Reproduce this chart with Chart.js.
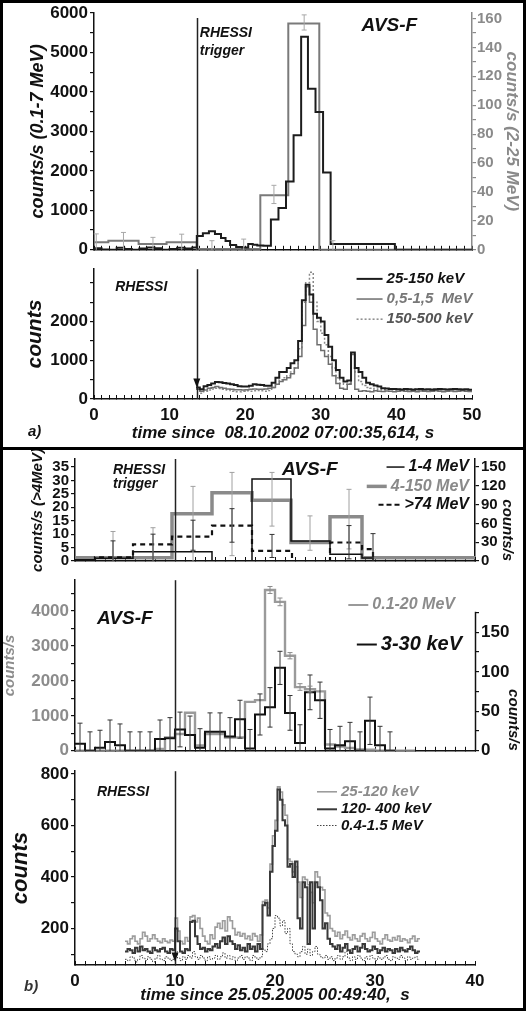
<!DOCTYPE html>
<html>
<head>
<meta charset="utf-8">
<title>AVS-F / RHESSI</title>
<script src="https://cdn.jsdelivr.net/npm/chart.js@4.4.1/dist/chart.umd.min.js"></script>
<style>
  body { margin: 0; background: #fff; }
  #page { position: relative; width: 526px; height: 1011px; overflow: hidden; background: #fff; }
  #page canvas { position: absolute; left: 0; }
  #sep { position: absolute; left: 0; top: 447px; width: 526px; height: 3px; background: #000; }
  #frame { position: absolute; left: 0; top: 0; width: 526px; height: 1011px; box-sizing: border-box; border: 3px solid #000; }
</style>
</head>
<body>
<div id="page">
  <canvas id="a1" width="526" height="262" style="top:0px"></canvas>
  <canvas id="a2" width="526" height="191" style="top:257px"></canvas>
  <canvas id="b1" width="526" height="124" style="top:448px"></canvas>
  <canvas id="b2" width="526" height="195" style="top:568px"></canvas>
  <canvas id="b3" width="526" height="249" style="top:759px"></canvas>
  <div id="sep"></div>
  <div id="frame"></div>
</div>
<script>
const FONT = '"Liberation Sans", Arial, sans-serif';
const BI = s => 'italic bold ' + s + 'px ' + FONT;

// ---------- a) 08.10.2002 ----------
const aTrigger = 13.6;

// AVS-F 0.1-7 MeV (left axis), bin edges + values
const a1BlackEdges = [0,1,2,3,4,5,6,7,8,9,10,11,12,13,13.6,14.4,15.2,16.0,16.8,17.4,18.0,18.8,19.6,20.4,21.0,21.6,22.4,
                      23.4,24.4,25.4,26.4,27.4,28.3,29.3,30.3,31.3,39.8,50];
const a1BlackVals  = [40,10,0,50,20,0,30,60,40,0,20,50,30,60,350,420,470,400,300,220,120,70,60,150,130,110,100,
                      770,1060,1730,2900,5400,4080,3490,1960,150,0];
// AVS-F 2-25 MeV (right axis)
const a1GrayEdges = [0,1.9,5.9,9.6,13.6,22.0,25.7,29.8,50];
const a1GrayVals  = [5.2,6.3,4.0,5.2,0.6,37.8,156.5,0];
const a1ErrT  = [0.3,3.9,7.8,11.6,15.6,19.8,23.8,27.8,31.6];
const a1ErrLo = [0,0,0,0,0,0,32,152,0];
const a1ErrHi = [11,12,8.6,10.8,6.3,7.4,44.6,162.5,6.3];
const a1LeftTicks   = [0,500,1000,1500,2000,2500,3000,3500,4000,4500,5000,5500,6000];
const a1LeftLabels  = ['0','','1000','','2000','','3000','','4000','','5000','','6000'];
const a1RightTicks  = [0,10,20,30,40,50,60,70,80,90,100,110,120,130,140,150,160];
const a1RightLabels = ['0','','20','','40','','60','','80','','100','','120','','140','','160'];

// RHESSI, 0.5 s bins starting at 13.5 s
const a2Start = 13.5, a2Step = 0.5;
const a2Low = [300,250,330,360,400,440,430,410,400,380,360,330,320,320,340,380,370,360,340,340,
               420,550,700,700,800,920,1000,1500,2550,2950,2700,2200,2100,2000,1650,1350,1000,750,550,450,
               480,1200,800,700,550,420,380,350,320,280,270,260,260,250,245,255,250,240,250,255,
               245,250,240,250,260,250,245,250,255,250,245,250,240];
const a2High = [250,200,230,280,300,320,300,280,260,250,240,240,230,240,250,260,250,250,260,280,
                300,380,450,500,550,650,800,1100,1900,2900,2500,1800,1400,1250,1100,900,600,400,280,250,
                380,1150,250,200,210,200,190,210,200,195,205,200,190,200,210,200,195,200,190,205,
                200,195,200,210,200,190,200,205,195,200,210,200,195];
const a2Mid = [250,150,200,230,260,280,270,250,230,200,190,190,200,210,200,210,220,210,200,220,
               300,380,500,550,600,700,800,1300,2500,3000,3270,2500,2000,1700,1400,1100,800,550,400,380,
               400,800,700,450,350,300,280,260,250,240,255,245,240,250,240,235,245,250,240,235,
               245,240,250,240,235,245,240,250,240,235,245,240,235];
const a2Ticks      = [0,500,1000,1500,2000,2500,3000];
const a2TickLabels = ['0','','1000','','2000','',''];

// ---------- b) 25.05.2005 ----------
const bTrigger = 10;

// AVS-F, >4 MeV channels (left axis) and 1-4 MeV (right axis)
const b1GrayEdges = [0,9.7,13.7,17.7,21.6,25.5,28.7,40];
const b1GrayVals  = [1.2,17.6,25.4,22.6,6.9,16.5,1.2];
const b1DashEdges = [0,2,5.8,9.7,13.7,17.7,21.7,25.5,28.7,29.8,40];
const b1DashVals  = [0.3,1.4,6.2,9.1,13.2,3.8,0,6.9,4.4,0];
const b1ThinEdges = [0,2,5.8,13.7,17.7,21.6,25.5,28.7,29.8,40];
const b1ThinVals  = [2,4.3,14.6,0,131,32,10.7,4.7,0];
const b1ErrGrayT  = [3.8,7.8,11.8,15.7,19.7,23.5,27.4];
const b1ErrGrayLo = [0,0,0,2,13,4,4.5];
const b1ErrGrayHi = [11,12.4,27.8,33,33,16.8,26.7];
const b1ErrDarkT  = [3.8,7.8,11.8,15.7,19.7,27.4,29.8];
const b1ErrDarkLo = [0,0,4,7,1.3,0.8,0];
const b1ErrDarkHi = [7.5,10,15.2,19.5,9.9,13.2,10.2];
const b1LeftTicks  = [0,5,10,15,20,25,30,35];
const b1RightTicks = [0,30,60,90,120,150];

// AVS-F 0.1-20 MeV (left) and 3-30 keV (right), 1 s bins
const b2GrayEdges = [0,1,2,3,4,5,6,7,8,9,10,11,12,13,14,15,16,17,18,19,20,21,22,23,24,25,26,27,28,29,30,31,32,33,34];
const b2GrayVals  = [0,0,0,0,0,0,0,0,50,380,480,1090,150,480,480,380,380,1400,1450,4600,4260,2720,1820,1760,1700,
                     180,120,80,40,30,0,0,0,0];
const b2GrayErrT  = [19.5,20.5,21.5,22.5,23.5];
const b2GrayErrLo = [4500,4150,2630,1730,1680];
const b2GrayErrHi = [4700,4370,2810,1920,1850];
const b2BlackEdges = [0,1,2,3,4,5,6,7,8,9,10,11,12,13,14,15,16,17,18,19,20,21,22,23,24,25,26,27,28,29,30,31,32];
const b2BlackVals  = [9,0,4,11,7,0,0,0,15,16,27,20,4,24,24,18,40,3,46,55,105,48,10,74,64,3,7,12,0,38,7,0];
const b2BlackErr   = [26,24,22,28,27,24,24,24,24,26,22,24,24,24,24,24,24,24,26,25,21,22,23,22,23,24,24,24,24,30,24,24];
const b2LeftTicks   = [0,500,1000,1500,2000,2500,3000,3500,4000,4500];
const b2LeftLabels  = ['0','','1000','','2000','','3000','','4000',''];
const b2RightTicks  = [0,25,50,75,100,125,150,175];
const b2RightLabels = ['0','','50','','100','','150',''];

// RHESSI, 0.25 s bins starting at 5 s
const b3Start = 5, b3Step = 0.25;
const b3Soft = [150,140,160,170,150,140,160,185, 170,150,160,175,160,150,145,160,
                150,145,155,150,240,190,150,140, 165,150,245,250,225,240,200,170,
                150,140,175,160,205,220,200,230, 190,245,230,200,175,185,170,180,
                160,170,155,180,170,150,175,305, 310,280,450,560,620,750,730,680,
                640,470,460,420,440,380,320,400, 390,370,340,300,420,400,360,350,
                260,250,200,190,170,185,160,175, 190,165,155,175,160,150,170,180,
                160,150,165,185,160,150,140,160, 175,155,150,165,155,170,150,160,
                155,145,160,170,150,160];
const b3Mid  = [110,120,115,105,125,110,130,115, 120,110,105,125,115,110,120,125,
                110,105,120,115,200,150,110,105, 120,115,225,230,170,140,120,125,
                110,120,115,130,140,125,150,165, 140,170,150,140,120,135,115,125,
                110,140,120,130,110,140,120,290, 300,250,420,520,580,740,700,620,
                600,440,450,400,460,240,200,380, 360,140,380,200,380,360,310,200,
                220,160,140,130,120,135,110,125, 140,115,105,120,130,110,125,140,
                120,110,115,130,120,105,115,125, 110,120,115,105,120,110,125,115,
                110,120,130,115,105,110];
const b3Hard = [80,75,90,85,70,80,95,85, 75,90,80,70,85,95,80,75,
                90,85,75,80,110,85,75,90, 80,95,85,110,90,80,95,85,
                75,90,80,85,95,80,90,105, 85,95,80,90,75,85,95,80,
                90,85,75,95,85,80,90,120, 110,140,160,200,250,240,210,230,
                180,200,140,110,100,90,110,130, 100,120,95,110,130,100,90,85,
                95,80,90,75,85,95,80,90, 110,85,75,90,80,95,85,75,
                90,80,95,85,75,90,80,85, 95,80,75,90,85,80,95,85,
                75,90,80,85,90,80];
const b3Ticks  = [100,200,300,400,500,600,700,800];
const b3Labels = ['','200','','400','','600','','800'];

// ---------- helpers ----------
function steps(edges, vals) {
  const pts = vals.map((v, i) => ({x: edges[i], y: v}));
  pts.push({x: edges[edges.length - 1], y: vals[vals.length - 1]});
  return pts;
}
function uniformSteps(t0, dt, vals) {
  const edges = vals.map((v, i) => t0 + i * dt);
  edges.push(t0 + vals.length * dt);
  return steps(edges, vals);
}
function stepSet(label, data, color, width, axis, dash) {
  return {label, data, borderColor: color, borderWidth: width, yAxisID: axis, borderDash: dash || [],
          stepped: true, pointRadius: 0, fill: false, tension: 0, borderJoinStyle: 'miter'};
}
function yAxis(o) {
  return {
    type: 'linear', position: o.pos || 'left', min: o.min, max: o.max,
    afterFit: s => { s.width = o.w; },
    afterBuildTicks: s => { s.ticks = o.ticks.map(v => ({value: v})); },
    ticks: {autoSkip: false, color: o.labelColor || o.color,
            font: {family: FONT, size: o.fs || 17, weight: 'bold'}, padding: o.pad != null ? o.pad : 2,
            callback: (v, i) => o.labels ? o.labels[i] : String(v)},
    grid: {drawOnChartArea: false, tickLength: 4, color: o.color, lineWidth: 1.2},
    border: {display: o.border !== false, color: o.color, width: 1.5},
    title: {display: true, text: o.title, color: o.labelColor || o.color, align: o.align || 'center',
            font: {family: FONT, size: o.tfs, weight: 'bold', style: 'italic'}, padding: {top: o.tp, bottom: 0}}
  };
}
function xAxis(o) {
  return {
    type: 'linear', min: 0, max: o.max,
    afterFit: s => { s.height = o.h; },
    ticks: {stepSize: 1, autoSkip: false, maxRotation: 0, color: '#111', padding: 10,
            font: {family: FONT, size: 17, weight: 'bold'},
            callback: v => (o.labels && v % 10 === 0) ? String(v) : ''},
    grid: {drawOnChartArea: false, tickLength: -4, color: '#111', lineWidth: 1},
    border: {display: true, color: '#111', width: 1.5},
    title: o.title ? {display: true, text: o.title, color: '#111',
                      font: {family: FONT, size: 17, weight: 'bold', style: 'italic'},
                      padding: {top: 0, bottom: o.tpb}} : {display: false}
  };
}

const decor = {
  id: 'decor',
  afterDatasetsDraw(chart, args, o) {
    const ctx = chart.ctx, xs = chart.scales.x, area = chart.chartArea;
    ctx.save();
    if (o.trigger != null) {
      const px = Math.round(xs.getPixelForValue(o.trigger)) + 0.5;
      ctx.strokeStyle = '#222'; ctx.lineWidth = 1.5;
      ctx.beginPath(); ctx.moveTo(px, area.top + (o.triggerTop || 0)); ctx.lineTo(px, area.bottom); ctx.stroke();
    }
    if (o.rightLineTop != null) {
      const ys = chart.scales.y2;
      ctx.strokeStyle = '#111'; ctx.lineWidth = 1.5;
      ctx.beginPath(); ctx.moveTo(area.right + 0.5, ys.getPixelForValue(o.rightLineTop)); ctx.lineTo(area.right + 0.5, area.bottom); ctx.stroke();
    }
    (o.errs || []).forEach(e => {
      const ys = chart.scales[e.axis];
      ctx.strokeStyle = e.color; ctx.lineWidth = 1;
      e.t.forEach((t, i) => {
        const px = xs.getPixelForValue(t), y1 = ys.getPixelForValue(e.lo[i]), y2 = ys.getPixelForValue(e.hi[i]);
        ctx.beginPath();
        ctx.moveTo(px, y1); ctx.lineTo(px, y2);
        ctx.moveTo(px - 2.5, y2); ctx.lineTo(px + 2.5, y2);
        if (e.lo[i] > ys.min) { ctx.moveTo(px - 2.5, y1); ctx.lineTo(px + 2.5, y1); }
        ctx.stroke();
      });
    });
    (o.markers || []).forEach(m => {
      const px = xs.getPixelForValue(m.t), py = chart.scales.y.getPixelForValue(m.v);
      ctx.fillStyle = '#111';
      ctx.beginPath(); ctx.moveTo(px, py); ctx.lineTo(px - 3.5, py - 9); ctx.lineTo(px + 3.5, py - 9); ctx.closePath(); ctx.fill();
    });
    (o.notes || []).forEach(n => {
      const ys = chart.scales[n.axis || 'y'];
      const x = n.px != null ? n.px : xs.getPixelForValue(n.t);
      const y = n.py != null ? n.py : ys.getPixelForValue(n.v);
      ctx.font = n.font; ctx.fillStyle = n.color || '#111';
      ctx.textBaseline = 'middle'; ctx.textAlign = 'left';
      const w = ctx.measureText(n.text).width;
      const x0 = n.align === 'right' ? x - w : x;
      ctx.fillText(n.text, x0, y);
      if (n.lead) {
        ctx.beginPath(); ctx.strokeStyle = n.lead.color; ctx.lineWidth = n.lead.width;
        ctx.setLineDash(n.lead.dash || []);
        ctx.moveTo(x0 - 4 - n.lead.len, y); ctx.lineTo(x0 - 4, y); ctx.stroke();
        ctx.setLineDash([]);
      }
    });
    ctx.restore();
  }
};
Chart.register(decor);

function base(padding, scales, decorOpts) {
  return {
    responsive: false, animation: false, events: [], devicePixelRatio: 1,
    layout: {padding},
    scales,
    plugins: {legend: {display: false}, tooltip: {enabled: false}, decor: decorOpts}
  };
}

// ---------- a) upper: AVS-F ----------
new Chart(document.getElementById('a1'), {
  type: 'line',
  data: {datasets: [
    stepSet('0.1-7 MeV', steps(a1BlackEdges, a1BlackVals), '#1c1c1c', 2, 'y'),
    stepSet('2-25 MeV', steps(a1GrayEdges, a1GrayVals), '#7a7a7a', 2, 'y2')
  ]},
  options: base({top: 13, right: 0, left: 0, bottom: 0}, {
    x: xAxis({max: 50, h: 5}),
    y: yAxis({min: 0, max: 6000, ticks: a1LeftTicks, labels: a1LeftLabels, w: 94, color: '#111',
              title: 'counts/s (0.1-7 MeV)', tfs: 18, tp: 27}),
    y2: yAxis({pos: 'right', min: 0, max: 163.8, ticks: a1RightTicks, labels: a1RightLabels, w: 54, color: '#8a8a8a',
               fs: 15, pad: 1, title: 'counts/s (2-25 MeV)', tfs: 17, tp: 4})
  }, {
    trigger: aTrigger, triggerTop: 5,
    errs: [{axis: 'y2', t: a1ErrT, lo: a1ErrLo, hi: a1ErrHi, color: '#a8a8a8'}],
    notes: [
      {text: 'RHESSI', t: 14.0, v: 5500, font: BI(14)},
      {text: 'trigger', t: 14.0, v: 5030, font: BI(14)},
      {text: 'AVS-F', t: 35.4, v: 5670, font: BI(19)}
    ]
  })
});

// ---------- a) lower: RHESSI ----------
new Chart(document.getElementById('a2'), {
  type: 'line',
  data: {datasets: [
    stepSet('25-150 keV', uniformSteps(a2Start, a2Step, a2Low), '#1c1c1c', 2, 'y'),
    stepSet('0,5-1,5 MeV', uniformSteps(a2Start, a2Step, a2High), '#6e6e6e', 1.5, 'y'),
    stepSet('150-500 keV', uniformSteps(a2Start, a2Step, a2Mid), '#8a8a8a', 1.5, 'y', [2, 2])
  ]},
  options: base({top: 6, right: 54, left: 0, bottom: 0}, {
    x: xAxis({max: 50, h: 49, labels: true, title: 'time since  08.10.2002 07:00:35,614, s', tpb: 4}),
    y: yAxis({min: 0, max: 3350, ticks: a2Ticks, labels: a2TickLabels, w: 94, color: '#111', title: 'counts', tfs: 21, tp: 23})
  }, {
    trigger: aTrigger,
    markers: [{t: aTrigger, v: 300}],
    notes: [
      {text: 'RHESSI', t: 2.8, v: 2890, font: BI(14)},
      {text: '25-150 keV', t: 38.7, v: 3100, font: BI(15), color: '#111', lead: {len: 26, color: '#1c1c1c', width: 2}},
      {text: '0,5-1,5  MeV', t: 38.7, v: 2580, font: BI(15), color: '#777', lead: {len: 26, color: '#6e6e6e', width: 1.5}},
      {text: '150-500 keV', t: 38.7, v: 2060, font: BI(15), color: '#555', lead: {len: 26, color: '#8a8a8a', width: 1.5, dash: [2, 2]}},
      {text: 'a)', px: 28, py: 175, font: BI(15)}
    ]
  })
});

// ---------- b) top: AVS-F high energy ----------
new Chart(document.getElementById('b1'), {
  type: 'line',
  data: {datasets: [
    stepSet('1-4 MeV', steps(b1ThinEdges, b1ThinVals), '#111', 1.5, 'y2'),
    stepSet('>74 MeV', steps(b1DashEdges, b1DashVals), '#111', 2.2, 'y', [5, 4]),
    stepSet('4-150 MeV', steps(b1GrayEdges, b1GrayVals), '#8a8a8a', 3.5, 'y')
  ]},
  options: base({top: 8, right: 0, left: 0, bottom: 0}, {
    x: xAxis({max: 40, h: 4}),
    y: yAxis({min: 0, max: 38, ticks: b1LeftTicks, w: 75, color: '#111', fs: 15, title: 'counts/s (>4MeV)', tfs: 15, tp: 29}),
    y2: yAxis({pos: 'right', min: 0, max: 162.9, ticks: b1RightTicks, w: 51, color: '#111', fs: 15, title: 'counts/s', tfs: 15, tp: 10, align: 'start'})
  }, {
    trigger: bTrigger,
    errs: [
      {axis: 'y', t: b1ErrGrayT, lo: b1ErrGrayLo, hi: b1ErrGrayHi, color: '#a0a0a0'},
      {axis: 'y', t: b1ErrDarkT, lo: b1ErrDarkLo, hi: b1ErrDarkHi, color: '#333'}
    ],
    notes: [
      {text: 'RHESSI', t: 3.8, v: 34, font: BI(14)},
      {text: 'trigger', t: 3.8, v: 28.5, font: BI(14)},
      {text: 'AVS-F', t: 20.7, v: 34, font: BI(19)},
      {text: '1-4 MeV', t: 39.4, v: 35, align: 'right', font: BI(16), lead: {len: 18, color: '#111', width: 1.5}},
      {text: '4-150 MeV', t: 39.4, v: 27.8, align: 'right', font: BI(16), color: '#8a8a8a', lead: {len: 20, color: '#8a8a8a', width: 3.5}},
      {text: '>74 MeV', t: 39.4, v: 21, align: 'right', font: BI(16), lead: {len: 22, color: '#111', width: 2, dash: [5, 3]}}
    ]
  })
});

// ---------- b) middle: AVS-F ----------
new Chart(document.getElementById('b2'), {
  type: 'line',
  data: {datasets: [
    stepSet('3-30 keV', steps(b2BlackEdges, b2BlackVals), '#111', 2, 'y2'),
    stepSet('0.1-20 MeV', steps(b2GrayEdges, b2GrayVals), '#9a9a9a', 2.4, 'y')
  ]},
  options: base({top: 3, right: 0, left: 0, bottom: 0}, {
    x: xAxis({max: 40, h: 4}),
    y: yAxis({min: 0, max: 4880, ticks: b2LeftTicks, labels: b2LeftLabels, w: 75, color: '#111', labelColor: '#8c8c8c',
              title: 'counts/s', tfs: 15, tp: 1}),
    y2: yAxis({pos: 'right', min: 0, max: 216, ticks: b2RightTicks, labels: b2RightLabels, w: 51, color: '#111', border: false,
               title: 'counts/s', tfs: 15, tp: 4, align: 'start'})
  }, {
    trigger: bTrigger, rightLineTop: 176,
    errs: [
      {axis: 'y2', t: b2BlackVals.map((v, i) => (b2BlackEdges[i] + b2BlackEdges[i + 1]) / 2),
       lo: b2BlackVals.map((v, i) => Math.max(0, v - b2BlackErr[i])),
       hi: b2BlackVals.map((v, i) => v + b2BlackErr[i]), color: '#333'},
      {axis: 'y', t: b2GrayErrT, lo: b2GrayErrLo, hi: b2GrayErrHi, color: '#8c8c8c'}
    ],
    notes: [
      {text: 'AVS-F', t: 2.2, v: 3780, font: BI(19)},
      {text: '0.1-20 MeV', t: 38.0, v: 4170, align: 'right', font: BI(16), color: '#8c8c8c', lead: {len: 20, color: '#9a9a9a', width: 2}},
      {text: '3-30 keV', t: 38.7, v: 3040, align: 'right', font: BI(20), lead: {len: 20, color: '#111', width: 2}}
    ]
  })
});

// ---------- b) bottom: RHESSI ----------
new Chart(document.getElementById('b3'), {
  type: 'line',
  data: {datasets: [
    stepSet('120- 400 keV', uniformSteps(b3Start, b3Step, b3Mid), '#3a3a3a', 2, 'y'),
    stepSet('25-120 keV', uniformSteps(b3Start, b3Step, b3Soft), '#9c9c9c', 1.6, 'y'),
    stepSet('0.4-1.5 MeV', uniformSteps(b3Start, b3Step, b3Hard), '#444', 1, 'y', [1.5, 1.5])
  ]},
  options: base({top: 4, right: 51, left: 0, bottom: 0}, {
    x: xAxis({max: 40, h: 43, labels: true, title: 'time since 25.05.2005 00:49:40,  s', tpb: 2}),
    y: yAxis({min: 58, max: 811, ticks: b3Ticks, labels: b3Labels, w: 75, color: '#111', title: 'counts', tfs: 22, tp: 8})
  }, {
    trigger: bTrigger,
    markers: [{t: bTrigger, v: 72}],
    notes: [
      {text: 'RHESSI', t: 2.2, v: 731, font: BI(14)},
      {text: '25-120 keV', t: 26.6, v: 731, font: BI(15), color: '#8c8c8c', lead: {len: 20, color: '#9c9c9c', width: 1.6}},
      {text: '120- 400 keV', t: 26.6, v: 663, font: BI(15), lead: {len: 20, color: '#3a3a3a', width: 2}},
      {text: '0.4-1.5 MeV', t: 26.6, v: 600, font: BI(15), lead: {len: 20, color: '#444', width: 1.2, dash: [1.5, 1.5]}},
      {text: 'b)', px: 24, py: 228, font: BI(15), color: '#333'}
    ]
  })
});
</script>
</body>
</html>
